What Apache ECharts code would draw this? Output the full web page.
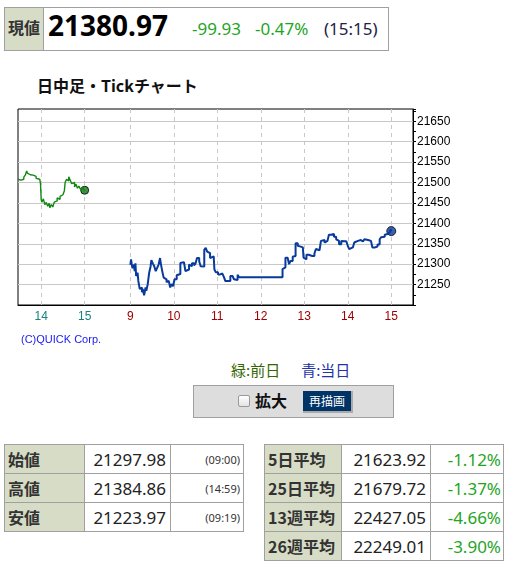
<!DOCTYPE html>
<html>
<head>
<meta charset="utf-8">
<script src="https://cdn.jsdelivr.net/npm/echarts@6/dist/echarts.min.js"></script>
<style>
body { margin: 0; background: #fff; font-family: "Noto Sans", "Noto Sans CJK JP", sans-serif; }
#page { position: relative; width: 512px; height: 569px; overflow: hidden; }
.abs { position: absolute; white-space: nowrap; }
.cjk { font-family: "Noto Sans CJK JP", sans-serif; }
#nowBox { left: 4px; top: 7px; width: 383px; height: 42px; border: 1px solid #a0a0a0; }
#nowLbl { left: 5px; top: 8px; width: 38px; height: 42px; background: #d7dcc6; border-right: 1px solid #a0a0a0; }
.green { color: #1fa51f; }
#chart { position: absolute; left: 0; top: 100px; width: 512px; height: 250px; }
#ctrl { left: 193px; top: 385px; width: 199px; height: 31px; background: #dddddd; border: 1px solid #a0a0a0; }
#chk { left: 238px; top: 395px; width: 10px; height: 10px; border: 1px solid #999; border-radius: 2px; background: linear-gradient(#fff, #e4e4e4); }
#btn { left: 303px; top: 391px; width: 48px; height: 20px; background: #003366; border-right: 2px solid #aaa; border-bottom: 2px solid #aaa;
  color: #fff; font-size: 12px; line-height: 20px; text-align: center; }
table { position: absolute; border-collapse: collapse; table-layout: fixed; }
td { border: 1px solid #a0a0a0; height: 28px; padding: 0; white-space: nowrap; }
td.lb { background: #d7dcc6; font-family: "Noto Sans CJK JP", sans-serif; font-weight: bold; font-size: 16px; color: #333; padding-left: 3px; }
td.val { text-align: right; font-size: 17px; color: #222; padding-right: 4px; }
td.tm { text-align: right; font-size: 11px; color: #333; padding-right: 3px; }
td.pc { text-align: right; font-size: 17px; color: #1fa51f; padding-right: 2px; }
</style>
</head>
<body>
<div id="page">
  <div id="nowBox" class="abs"></div>
  <div id="nowLbl" class="abs"></div>
  <div class="abs cjk" style="left:8px;top:19px;font-size:16px;line-height:16px;font-weight:bold;color:#333;">現値</div>
  <div class="abs" style="left:48px;top:11px;font-size:28px;line-height:28px;font-weight:bold;color:#000;">21380.97</div>
  <div class="abs green" style="left:192px;top:20px;font-size:17px;line-height:17px;">-99.93</div>
  <div class="abs green" style="left:255px;top:20px;font-size:17px;line-height:17px;">-0.47%</div>
  <div class="abs" style="left:324px;top:20px;font-size:17px;line-height:17px;color:#222244;">(15:15)</div>

  <div class="abs cjk" style="left:37px;top:77px;font-size:16px;line-height:16px;font-weight:bold;color:#111;">日中足・Tickチャート</div>

  <div id="chart"></div>

  <div class="abs" style="left:21px;top:334px;font-family:'Liberation Sans',sans-serif;font-size:11px;line-height:11px;color:#1a1aee;">(C)QUICK Corp.</div>

  <div class="abs cjk" style="left:231px;top:362px;font-size:15px;line-height:15px;">
    <span style="color:#336600;">緑:前日</span><span style="display:inline-block;width:21px;"></span><span style="color:#2233aa;">青:当日</span>
  </div>

  <div id="ctrl" class="abs"></div>
  <div id="chk" class="abs"></div>
  <div class="abs cjk" style="left:255px;top:392px;font-size:16px;line-height:16px;font-weight:bold;color:#111;">拡大</div>
  <div id="btn" class="abs cjk">再描画</div>

  <table style="left:4px;top:444px;width:239px;">
    <colgroup><col style="width:80px"><col style="width:86px"><col style="width:73px"></colgroup>
    <tr><td class="lb">始値</td><td class="val">21297.98</td><td class="tm">(09:00)</td></tr>
    <tr><td class="lb">高値</td><td class="val">21384.86</td><td class="tm">(14:59)</td></tr>
    <tr><td class="lb">安値</td><td class="val">21223.97</td><td class="tm">(09:19)</td></tr>
  </table>

  <table style="left:264px;top:444px;width:239px;">
    <colgroup><col style="width:77px"><col style="width:89px"><col style="width:73px"></colgroup>
    <tr><td class="lb">5日平均</td><td class="val">21623.92</td><td class="pc">-1.12%</td></tr>
    <tr><td class="lb">25日平均</td><td class="val">21679.72</td><td class="pc">-1.37%</td></tr>
    <tr><td class="lb">13週平均</td><td class="val">22427.05</td><td class="pc">-4.66%</td></tr>
    <tr><td class="lb">26週平均</td><td class="val">22249.01</td><td class="pc">-3.90%</td></tr>
  </table>
</div>

<script>
// 前日 (green)
const prevTimes = ['13:28','13:30','13:32','13:34','13:36','13:38','13:40','13:41','13:43','13:45',
  '13:47','13:49','13:51','13:53','13:55','13:58','13:59','14:00','14:01','14:03',
  '14:05','14:07','14:09','14:11','14:12','14:14','14:16','14:18','14:20','14:22',
  '14:24','14:26','14:28','14:30','14:32','14:33','14:35','14:37','14:38','14:40',
  '14:42','14:44','14:46','14:48','14:50','14:52','14:54','14:56','14:58','15:00'];
const prevValues = [21508,21506,21510,21508,21513,21518,21528,21523,21519,21522,
  21518,21521,21515,21510,21508,21506,21498,21458,21452,21460,
  21446,21451,21442,21449,21438,21446,21440,21452,21455,21462,
  21459,21466,21470,21468,21480,21500,21508,21504,21514,21506,
  21497,21500,21489,21496,21486,21491,21484,21488,21482,21481];

// 当日 (blue)
const todayTimes = ['09:00','09:01','09:02','09:03','09:05','09:06','09:07','09:08','09:10','09:11',
  '09:13','09:15','09:16','09:17','09:19','09:21','09:22','09:24','09:26','09:28',
  '09:29','09:31','09:33','09:35','09:37','09:39','09:41','09:42','09:44','09:46',
  '09:48','09:50','09:52','09:53','09:55','09:57','09:59','10:01','10:04','10:06',
  '10:09','10:11','10:14','10:16','10:18','10:21','10:23','10:25','10:28','10:30',
  '10:32','10:35','10:37','10:39','10:42','10:44','10:46','10:48','10:50','10:52',
  '10:55','10:56','10:58','11:01','11:04','11:07','11:09','11:11','11:14','11:16',
  '11:18','11:21','11:23','11:25','11:28','11:30','12:30','12:32','12:34','12:37',
  '12:39','12:41','12:44','12:46','12:48','12:51','12:53','12:55','12:58','12:59',
  '13:01','13:03','13:06','13:08','13:11','13:14','13:16','13:18','13:21','13:23',
  '13:25','13:28','13:30','13:32','13:34','13:37','13:39','13:41','13:44','13:46',
  '13:48','13:51','13:53','13:55','13:58','14:00','14:02','14:04','14:07','14:09',
  '14:11','14:14','14:16','14:18','14:21','14:23','14:25','14:28','14:30','14:32',
  '14:34','14:37','14:39','14:41','14:44','14:46','14:48','14:51','14:53','14:55',
  '14:58','14:59','15:00'];
const todayValues = [21298,21312,21299,21290,21299,21283,21302,21271,21279,21259,
  21239,21243,21231,21239,21224,21243,21235,21251,21279,21295,
  21310,21302,21295,21283,21291,21299,21315,21302,21283,21267,
  21263,21256,21259,21255,21243,21251,21246,21263,21273,21276,
  21303,21305,21302,21283,21287,21299,21295,21302,21297,21302,
  21315,21307,21295,21294,21335,21340,21331,21327,21315,21319,
  21319,21287,21280,21275,21277,21275,21269,21259,21263,21259,
  21271,21267,21263,21261,21274,21268,21288,21292,21316,21312,
  21300,21308,21318,21320,21351,21345,21343,21341,21337,21316,
  21312,21323,21326,21320,21320,21326,21337,21334,21337,21357,
  21359,21353,21357,21353,21372,21375,21374,21367,21361,21357,
  21349,21357,21356,21356,21353,21345,21337,21341,21337,21353,
  21357,21356,21359,21356,21357,21361,21359,21356,21357,21353,
  21341,21345,21343,21348,21361,21366,21367,21372,21374,21378,
  21382,21385,21381];

const yMin = 21200, yMax = 21680, yStep = 50;

function pad(n) { return (n < 10 ? '0' : '') + n; }
function minuteCats(from, to, prefix) {
  const out = [];
  for (let m = from; m <= to; m++) out.push(prefix + pad(Math.floor(m / 60)) + ':' + pad(m % 60));
  return out;
}
const gapCats = [];
for (let i = 1; i <= 62; i++) gapCats.push('G' + i);
const categories = [].concat(
  minuteCats(13 * 60 + 28, 15 * 60, 'P'),
  gapCats,
  minuteCats(9 * 60, 15 * 60 + 30, 'T')
);
function isHour(v) { return v[0] !== 'G' && v.slice(-3) === ':00'; }

const prevData = prevTimes.map((t, i) => ['P' + t, prevValues[i]]);
const todayData = todayTimes.map((t, i) => ['T' + t, todayValues[i]]);

const chart = echarts.init(document.getElementById('chart'));
chart.setOption({
  animation: false,
  grid: { left: 18, top: 9, width: 395, height: 196, show: true, borderColor: '#000', borderWidth: 1 },
  xAxis: {
    type: 'category',
    data: categories,
    boundaryGap: false,
    axisLine: { lineStyle: { color: '#000', width: 1 } },
    axisTick: { show: false },
    axisLabel: {
      interval: (i, v) => isHour(v),
      formatter: v => String(parseInt(v.slice(1, 3), 10)),
      color: v => (v[0] === 'P' ? '#1a8080' : '#a00000'),
      fontSize: 12,
      fontFamily: 'Liberation Sans',
      margin: 6
    },
    splitLine: {
      show: true,
      interval: (i, v) => isHour(v),
      lineStyle: { color: '#c8c8c8', type: [4, 4] }
    }
  },
  yAxis: {
    type: 'value',
    position: 'right',
    min: yMin,
    max: yMax,
    interval: yStep,
    axisLine: { show: true, lineStyle: { color: '#000' } },
    axisTick: { show: true, length: 3, lineStyle: { color: '#000' } },
    minorTick: { show: true, splitNumber: 2, length: 3, lineStyle: { color: '#000' } },
    axisLabel: {
      formatter: v => (v % yStep === 0 && v > yMin ? String(v) : ''),
      color: '#000',
      fontSize: 12,
      fontFamily: '"Liberation Sans Narrow", "Liberation Sans"',
      margin: 4
    },
    splitLine: { show: true, showMinLine: false, showMaxLine: false, lineStyle: { color: '#c8c8c8' } }
  },
  series: [
    { type: 'line', data: prevData, step: 'end', symbol: 'none', lineStyle: { color: '#118811', width: 1.4 } },
    { type: 'line', data: todayData, step: 'end', symbol: 'none', lineStyle: { color: '#073a9c', width: 2 } },
    { type: 'scatter', data: [prevData[prevData.length - 1]], symbolSize: 8,
      itemStyle: { color: '#0f7a0f', borderColor: '#000', borderWidth: 1 } },
    { type: 'scatter', data: [todayData[todayData.length - 1]], symbolSize: 9,
      itemStyle: { color: '#073a9c', borderColor: '#000', borderWidth: 1 } }
  ]
});
</script>
</body>
</html>
